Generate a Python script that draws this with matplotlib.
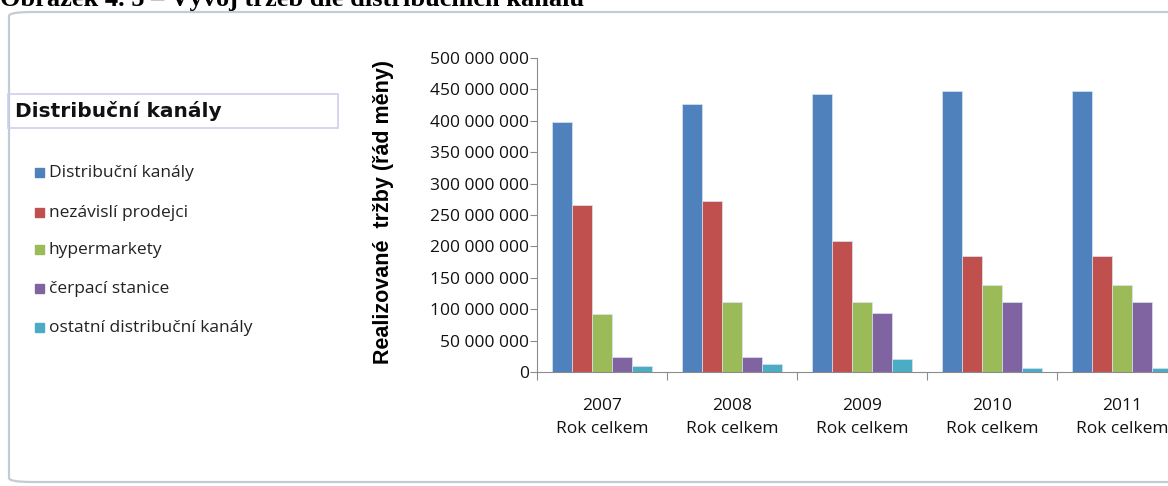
import numpy as np
import matplotlib.pyplot as plt
from matplotlib.patches import FancyBboxPatch, Rectangle
from matplotlib.ticker import FuncFormatter

years = ['2007', '2008', '2009', '2010', '2011']
channels = ['Distribuční kanály', 'nezávislí prodejci', 'hypermarkety',
            'čerpací stanice', 'ostatní distribuční kanály']
distribucni = [398e6, 427e6, 442e6, 447e6, 447e6]
nezavisli = [266e6, 272e6, 208e6, 185e6, 185e6]
hypermarkety = [92e6, 112e6, 112e6, 138e6, 138e6]
cerpaci = [24e6, 24e6, 94e6, 112e6, 112e6]
ostatni = [10e6, 12e6, 21e6, 7e6, 7e6]
colors = ['#4F81BD', '#C0504D', '#9BBB59', '#8064A2', '#4BACC6']

W, H = 1168, 486
fig = plt.figure(figsize=(W / 100, H / 100), dpi=100)
fig.patch.set_facecolor('white')

def fx(px):
    return px / W

def fy(py):
    return 1 - py / H

# caption, cut off by the top edge
fig.text(fx(0), fy(6), 'Obrázek 4. 5 – Vývoj tržeb dle distribučních kanálů',
         family='Liberation Serif', weight='bold', fontsize=19, va='baseline', ha='left')

# chart area frame
fig.patches.append(FancyBboxPatch((fx(9), fy(482)), fx(1200) - fx(9), fy(12) - fy(482),
                                  boxstyle='round,pad=0,rounding_size=0.02',
                                  transform=fig.transFigure, fill=False,
                                  edgecolor='#c3ccd5', lw=1.6, mutation_aspect=H / W))

# legend title box
fig.patches.append(Rectangle((fx(8), fy(128)), fx(338) - fx(8), fy(94) - fy(128),
                             transform=fig.transFigure, fill=False,
                             edgecolor='#cfcdf2', lw=1.2))
fig.text(fx(15), fy(111), 'Distribuční kanály', family='DejaVu Sans', weight='bold',
         fontsize=14.5, va='center', ha='left', color='#111111')

# legend entries
leg_y = [173, 213, 250, 289, 328]
for name, c, y in zip(channels, colors, leg_y):
    fig.patches.append(Rectangle((fx(35), fy(y + 4)), fx(9), fy(0) - fy(9),
                                 transform=fig.transFigure, color=c))
    fig.text(fx(49), fy(y), name, family='Open Sans', fontsize=12.5,
             va='center', ha='left', color='#222222')

ax = fig.add_axes([fx(537), fy(372), fx(1187) - fx(537), fy(58) - fy(372)])
series = [distribucni, nezavisli, hypermarkety, cerpaci, ostatni]
bw = 20 / 130
start = 15 / 130
idx = np.arange(len(years))
for j, (vals, c) in enumerate(zip(series, colors)):
    ax.bar(idx + start + bw * (j + 0.5), vals, width=bw, color=c,
           edgecolor='#d9e4f0', linewidth=0.5)

ax.set_xlim(0, 5)
ax.set_ylim(0, 500e6)
ax.set_yticks(np.arange(0, 500e6 + 1, 50e6))
ax.yaxis.set_major_formatter(FuncFormatter(lambda v, p: f'{int(v):,}'.replace(',', ' ')))
ax.set_xticks(np.arange(0, 6))
ax.set_xticklabels([])
for i, yr in enumerate(years):
    ax.annotate(f'{yr}\nRok celkem', xy=(i + 0.5, 0), xycoords=('data', 'axes fraction'),
                xytext=(0, -26), textcoords='offset pixels',
                ha='center', va='top', fontsize=12.5, family='Open Sans',
                linespacing=1.55, color='#111111', annotation_clip=False)
for s in ['top', 'right']:
    ax.spines[s].set_visible(False)
for s in ['left', 'bottom']:
    ax.spines[s].set_color('#8c8c8c')
ax.tick_params(axis='y', length=5, color='#8c8c8c', labelsize=12.5, pad=1)
ax.tick_params(axis='x', length=6, color='#8c8c8c')
for lab in ax.get_yticklabels():
    lab.set_family('Open Sans')
    lab.set_color('#111111')

fig.text(fx(383), fy(212), 'Realizované  tržby (řád měny)', rotation=90,
         family='Liberation Sans', weight='bold', fontsize=15.5, ha='center', va='center')

fig.savefig('out.png', dpi=100)
